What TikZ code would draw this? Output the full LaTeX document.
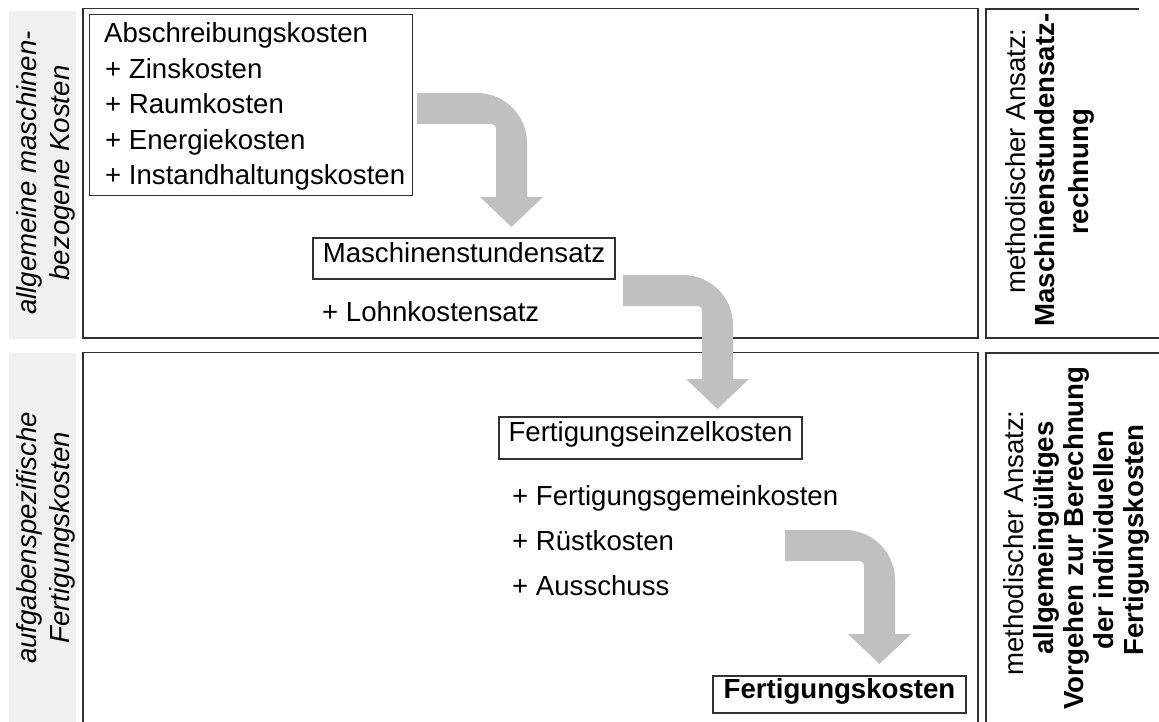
\documentclass[tikz,border=0pt]{standalone}
\usepackage{fontspec}
\setmainfont{Liberation Sans}
\definecolor{stripgray}{RGB}{240,240,240}
\definecolor{arrowgray}{RGB}{192,192,192}
\definecolor{framegray}{RGB}{50,50,50}
\begin{document}
\begin{tikzpicture}[x=1pt,y=-1pt,
  every node/.style={font=\fontsize{27.6}{33}\selectfont, inner sep=0pt},
  frame/.style={draw=framegray, line width=1.4pt},
  termbox/.style={draw=framegray, line width=1.4pt, text height=0.72em, text depth=0pt, anchor=center},
  item/.style={anchor=base west},
  sidelabel/.style={rotate=90, align=center, font=\fontsize{27.6}{33.3}\selectfont\itshape},
  approach/.style={rotate=90, anchor=base},
  strong/.style={font=\fontsize{27.6}{33}\selectfont\bfseries},
  pics/bentarrow/.style={code={
    \fill[arrowgray] (0,0) -- (60,0) .. controls (87.6,0) and (110,22.4) .. (110,50)
      -- (110,104) -- (126,104) -- (94.5,134) -- (63,104) -- (79,104) -- (79,35)
      .. controls (79,32.8) and (76.8,31) .. (75,31) -- (0,31) -- cycle;
  }}
]
\useasboundingbox (0,0) rectangle (1159,722);
\clip (0,0) rectangle (1159,722);

% grey label strips on the left
\fill[stripgray] (9,11) rectangle (76,339);
\fill[stripgray] (9,353) rectangle (76,730);

% main areas
\draw[frame] (83,8.5) rectangle (978,338);
\draw[frame] (83,352.5) rectangle (978,730);

% method areas on the right
\draw[frame] (1139,9) -- (986,9) -- (986,338) -- (1165,338);
\draw[frame] (1165,353) -- (986,353) -- (986,730);

% side labels
\node[sidelabel] (lblA) at (46,173) {allgemeine maschinen-\\bezogene Kosten};
\node[sidelabel] (lblB) at (46,538) {aufgabenspezifische\\Fertigungskosten};

% machine related cost items
\node[draw=framegray, line width=1.4pt, minimum width=323pt, minimum height=181pt,
      anchor=north west] (costs) at (89,14) {};
\node[item] (c0) at (104,43) {Abschreibungskosten};
\node[item] (c1) at (105,78.5) {+ Zinskosten};
\node[item] (c2) at (105,114) {+ Raumkosten};
\node[item] (c3) at (105,149.5) {+ Energiekosten};
\node[item] (c4) at (105,185) {+ Instandhaltungskosten};

\node[termbox, minimum width=302pt, minimum height=41pt] (msatz) at (464,258.5) {Maschinenstundensatz};
\node[item] (lohn) at (322,321) {+ Lohnkostensatz};

% task specific costs
\node[termbox, minimum width=303pt, minimum height=42pt] (fek) at (650.5,438) {Fertigungseinzelkosten};
\node[item] (f1) at (512,505) {+ Fertigungsgemeinkosten};
\node[item] (f2) at (512,550) {+ Rüstkosten};
\node[item] (f3) at (512,595) {+ Ausschuss};

\node[termbox, strong, minimum width=253pt, minimum height=37pt] (fk) at (839.5,694.5) {Fertigungskosten};

% bent block arrows
\pic (arrA) at (417,93) {bentarrow};
\pic (arrB) at (623,275) {bentarrow};
\pic (arrC) at (785,530) {bentarrow};

% methodical approaches
\node[approach] (mA1) at (1025,161) {methodischer Ansatz:};
\node[approach, strong] (mA2) at (1054,170) {Maschinenstundensatz-};
\node[approach, strong] (mA3) at (1088,172) {rechnung};

\node[approach] (mB1) at (1023,543) {methodischer Ansatz:};
\node[approach, strong] (mB2) at (1053,538) {allgemeingültiges};
\node[approach, strong] (mB3) at (1083,538) {Vorgehen zur Berechnung};
\node[approach, strong] (mB4) at (1113,540) {der individuellen};
\node[approach, strong] (mB5) at (1143,540) {Fertigungskosten};
\end{tikzpicture}
\end{document}
